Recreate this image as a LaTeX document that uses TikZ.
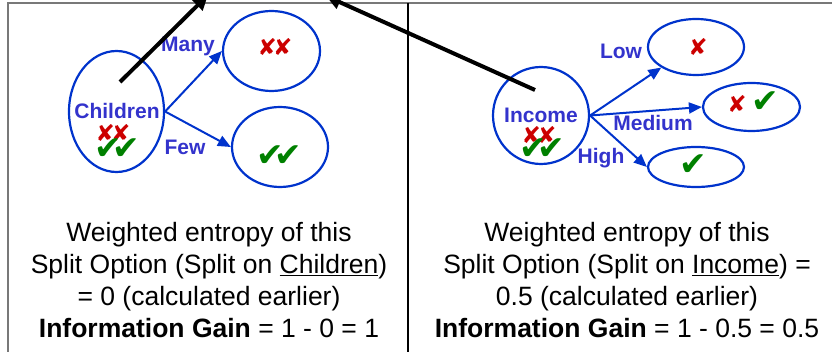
\documentclass[tikz,border=0pt]{standalone}
\usepackage{fontspec}
\setmainfont{Liberation Sans}
\newfontfamily\symf{DejaVu Sans}
\usetikzlibrary{shapes.geometric,arrows.meta}
\definecolor{ellblue}{RGB}{0,51,204}
\definecolor{lblblue}{RGB}{51,51,204}
\definecolor{xred}{RGB}{204,0,0}
\definecolor{okgreen}{RGB}{0,128,0}
\definecolor{framegray}{RGB}{120,120,120}
\begin{document}
\begin{tikzpicture}[x=1pt,y=-1pt,
  oval/.style={ellipse, draw=ellblue, line width=2.2pt, inner sep=0pt},
  lbl/.style={text=lblblue, font=\fontsize{21}{24}\selectfont\bfseries, inner sep=0pt},
  branch/.style={draw=ellblue, line width=2pt, -{Triangle[length=13pt,width=11pt]}},
  pointer/.style={draw=black, line width=4pt, -{Triangle[length=15pt,width=14pt]}},
  xmark/.style={text=xred, font=\symf\fontsize{23}{23}\selectfont, inner sep=0pt},
  okmark/.style={text=okgreen, font=\symf\fontsize{33}{33}\selectfont, inner sep=0pt},
  body/.style={align=center, font=\fontsize{26.5}{32}\selectfont, inner sep=0pt}]
\useasboundingbox (0,0) rectangle (832,352);
\clip (0,0) rectangle (832,352);
% frame
\coordinate (fbl) at (8,352);
\coordinate (ftl) at (8,3);
\coordinate (ftr) at (832,3);
\coordinate (mt) at (408,3);
\coordinate (mb) at (408,352);
\draw[framegray, line width=1.5pt] (fbl) -- (ftl) -- (ftr);
\draw[black, line width=2pt] (mt) -- (mb);
% left tree
\node[oval, minimum width=95pt, minimum height=121pt] (chil) at (116.5,111.5) {};
\node[oval, minimum width=97pt, minimum height=80pt] (many) at (271.5,51) {};
\node[oval, minimum width=96pt, minimum height=80pt] (few) at (280,147) {};
\node[lbl] (chilt) at (117,111) {Children};
\node[xmark] (chilx) at (113,133) {✘\kern-4pt✘};
\node[okmark] (chilok) at (117,149) {✔\kern-10pt✔};
\node[xmark] (manyx) at (275,47) {✘\kern-4pt✘};
\node[okmark] (fewok) at (279,156) {✔\kern-10pt✔};
\node[lbl] (manyt) at (188,46) {Many};
\node[lbl] (fewt) at (185,147) {Few};
\draw[branch] (chil.east) -- (many.west);
\draw[branch] (chil.east) -- (few.west);
% right tree
\node[oval, minimum width=96pt, minimum height=97pt] (inc) at (541,115.5) {};
\node[oval, minimum width=96pt, minimum height=56pt] (low) at (696,47) {};
\node[oval, minimum width=97pt, minimum height=48pt] (med) at (751.5,107) {};
\node[oval, minimum width=96pt, minimum height=40pt] (high) at (696,167) {};
\node[lbl] (inct) at (541,115) {Income};
\node[xmark] (incx) at (539,135) {✘\kern-4pt✘};
\node[okmark] (incok) at (542,149) {✔\kern-10pt✔};
\node[xmark] (lowx) at (698,47) {✘};
\node[xmark] (medx) at (737,104) {✘};
\node[okmark] (medok) at (765,102) {✔};
\node[okmark] (highok) at (693,165) {✔};
\node[lbl] (lowt) at (621,51) {Low};
\node[lbl] (medt) at (653,123) {Medium};
\node[lbl] (hight) at (601,158) {High};
\draw[branch] (inc.east) -- (low.south west);
\draw[branch] (inc.east) -- (med.west);
\draw[branch] (inc.east) -- (high.west);
% pointers
\coordinate (p1s) at (120,82);
\coordinate (p1e) at (208,-5);
\coordinate (p2s) at (535,90);
\coordinate (p2e) at (326,-4);
\draw[pointer] (p1s) -- (p1e);
\draw[pointer] (p2s) -- (p2e);
% texts
\node[body] (ltext) at (209,280) {Weighted entropy of this\\Split Option (Split on \underline{Children})\\= 0 (calculated earlier)\\\textbf{Information Gain} = 1 - 0 = 1};
\node[body] (rtext) at (627,280) {Weighted entropy of this\\Split Option (Split on \underline{Income}) =\\0.5 (calculated earlier)\\\textbf{Information Gain} = 1 - 0.5 = 0.5};
\end{tikzpicture}
\end{document}
